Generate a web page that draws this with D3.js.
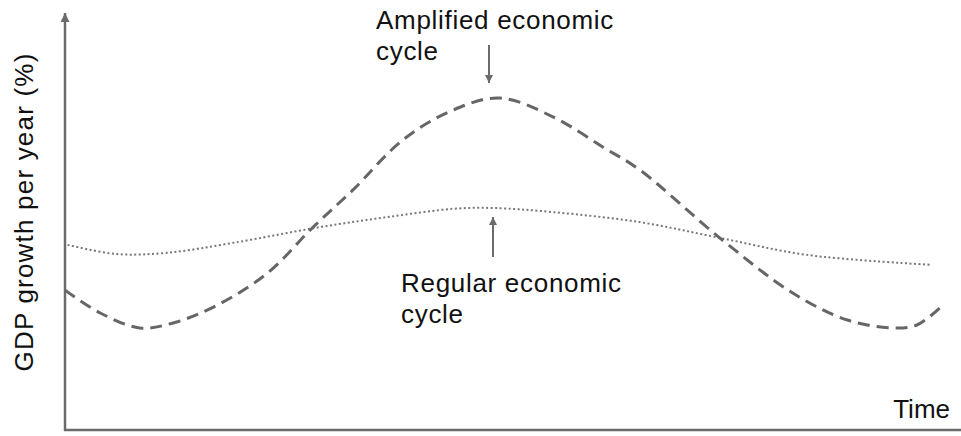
<!DOCTYPE html>
<html>
<head>
<meta charset="utf-8">
<script src="https://cdn.jsdelivr.net/npm/d3@7"></script>
<style>
  body { margin: 0; background: #fff; }
  text { font-family: "Liberation Sans", Arial, sans-serif; fill: #111; }
</style>
</head>
<body>
<svg id="chart" width="961" height="436"></svg>
<script>
// time (0-100) and GDP growth (arbitrary units)
let ampTime = [0, 4, 8.5, 12.3, 17.3, 23, 28.2, 32.7, 38.4, 44.1, 49.4, 55.5, 61.1, 65.3, 74.4, 82.7, 88.9, 94.1, 96.8, 99.4]
let ampGrowth = [3.37, 2.82, 2.46, 2.58, 3.01, 3.78, 4.89, 5.78, 6.99, 7.71, 8.0, 7.54, 6.82, 6.27, 4.63, 3.3, 2.65, 2.46, 2.53, 2.94]

let regTime = [0.3, 5.9, 11.6, 19.1, 29, 36.6, 44.1, 48.6, 55.5, 65.3, 74.4, 84.3, 98.5]
let regGrowth = [4.46, 4.24, 4.27, 4.51, 4.89, 5.13, 5.33, 5.35, 5.25, 5.01, 4.63, 4.22, 3.98]

let width = 961
let height = 436
let svg = d3.select('#chart')

let x = d3.scaleLinear().domain([0, 100]).range([65, 945])
let y = d3.scaleLinear().domain([0, 10]).range([430, 15])

let line = d3.line()
  .x(d => x(d[0]))
  .y(d => y(d[1]))
  .curve(d3.curveCatmullRom)

let axisColor = '#6b6b6b'

// arrow markers (point along the line direction)
let defs = svg.append('defs')
defs.append('marker')
  .attr('id', 'axis-head')
  .attr('viewBox', '0 0 10 10')
  .attr('refX', 10).attr('refY', 5)
  .attr('markerWidth', 13).attr('markerHeight', 9)
  .attr('markerUnits', 'userSpaceOnUse')
  .attr('orient', 'auto')
  .append('path')
  .attr('d', 'M0,0 L10,5 L0,10 Z')
  .attr('fill', axisColor)

defs.append('marker')
  .attr('id', 'note-head')
  .attr('viewBox', '0 0 10 10')
  .attr('refX', 10).attr('refY', 5)
  .attr('markerWidth', 11).attr('markerHeight', 8)
  .attr('markerUnits', 'userSpaceOnUse')
  .attr('orient', 'auto')
  .append('path')
  .attr('d', 'M0,0 L10,5 L0,10 Z')
  .attr('fill', axisColor)

// axes
svg.append('line')
  .attr('x1', x(0)).attr('x2', x(0))
  .attr('y1', y(0) + 1).attr('y2', 13)
  .attr('stroke', axisColor)
  .attr('stroke-width', 2.5)
  .attr('marker-end', 'url(#axis-head)')

svg.append('line')
  .attr('x1', x(0) - 1).attr('x2', width)
  .attr('y1', y(0)).attr('y2', y(0))
  .attr('stroke', axisColor)
  .attr('stroke-width', 2.5)

// curves
svg.append('path')
  .datum(d3.zip(regTime, regGrowth))
  .attr('d', line)
  .attr('fill', 'none')
  .attr('stroke', '#777')
  .attr('stroke-width', 2)
  .attr('stroke-dasharray', '2,2.5')

svg.append('path')
  .datum(d3.zip(ampTime, ampGrowth))
  .attr('d', line)
  .attr('fill', 'none')
  .attr('stroke', '#666')
  .attr('stroke-width', 3)
  .attr('stroke-dasharray', '12,7')

// labels
svg.append('text')
  .attr('transform', 'translate(33,212) rotate(-90)')
  .attr('text-anchor', 'middle')
  .attr('font-size', 26)
  .attr('letter-spacing', 1.2)
  .text('GDP growth per year (%)')

svg.append('text')
  .attr('x', 950).attr('y', 418)
  .attr('text-anchor', 'end')
  .attr('font-size', 26)
  .text('Time')

// annotations
let amp = svg.append('text').attr('font-size', 26).attr('letter-spacing', 0.7)
amp.append('tspan').attr('x', 376).attr('y', 29).text('Amplified economic')
amp.append('tspan').attr('x', 376).attr('y', 60).text('cycle')

svg.append('line')
  .attr('x1', 489).attr('x2', 489)
  .attr('y1', 45).attr('y2', 83)
  .attr('stroke', axisColor).attr('stroke-width', 2)
  .attr('marker-end', 'url(#note-head)')

let reg = svg.append('text').attr('font-size', 26).attr('letter-spacing', 0.7)
reg.append('tspan').attr('x', 401).attr('y', 292).text('Regular economic')
reg.append('tspan').attr('x', 401).attr('y', 323).text('cycle')

svg.append('line')
  .attr('x1', 493).attr('x2', 493)
  .attr('y1', 257).attr('y2', 217)
  .attr('stroke', axisColor).attr('stroke-width', 2)
  .attr('marker-end', 'url(#note-head)')
</script>
</body>
</html>
